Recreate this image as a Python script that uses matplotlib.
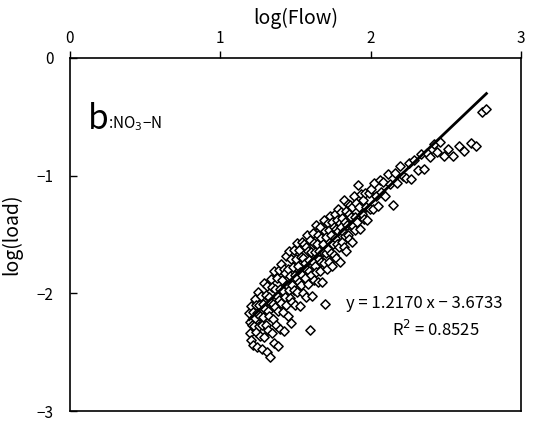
import matplotlib
matplotlib.use("Agg")
import matplotlib.pyplot as plt
import numpy as np

plt.rcParams['font.family'] = ['Noto Sans CJK JP', 'DejaVu Sans']

# (log Flow, log load) points
pts = [
(1.192,-2.17),(1.195,-2.34),(1.198,-2.24),(1.203,-2.11),(1.206,-2.40),(1.211,-2.27),(1.215,-2.16),(1.219,-2.44),
(1.224,-2.28),(1.228,-2.05),(1.231,-2.21),(1.236,-2.33),(1.239,-2.10),
(1.243,-2.46),(1.247,-2.17),(1.252,-1.99),(1.255,-2.28),(1.259,-2.10),(1.263,-2.36),(1.266,-2.19),(1.271,-2.02),
(1.274,-2.47),(1.278,-2.27),(1.282,-2.09),(1.286,-2.20),(1.289,-1.91),(1.293,-2.37),(1.297,-2.13),
(1.301,-2.01),(1.305,-2.27),(1.308,-2.50),(1.312,-1.94),(1.316,-2.15),(1.319,-2.31),(1.323,-2.03),(1.327,-2.19),
(1.330,-2.54),(1.334,-1.88),(1.338,-2.08),(1.342,-2.34),(1.345,-1.95),(1.349,-2.22),
(1.352,-2.09),(1.356,-1.81),(1.359,-2.42),(1.363,-2.12),(1.366,-1.96),(1.370,-2.27),(1.374,-1.87),(1.377,-2.02),
(1.381,-2.45),(1.385,-2.15),(1.388,-1.80),(1.392,-2.06),(1.396,-1.96),(1.399,-2.30),
(1.403,-1.75),(1.406,-2.08),(1.410,-1.89),(1.414,-2.16),(1.417,-1.98),(1.421,-1.79),(1.425,-2.32),(1.428,-2.03),
(1.432,-1.83),(1.436,-2.10),(1.439,-1.68),(1.443,-1.93),(1.447,-2.19),
(1.450,-1.79),(1.454,-1.97),(1.458,-1.64),(1.461,-2.04),(1.465,-1.85),(1.469,-2.25),(1.472,-1.71),(1.476,-1.93),
(1.480,-2.07),(1.483,-1.78),(1.487,-1.63),(1.491,-1.97),(1.494,-1.84),(1.498,-2.10),
(1.502,-1.71),(1.505,-1.87),(1.509,-1.57),(1.513,-1.99),(1.516,-1.77),(1.520,-1.90),(1.524,-1.63),(1.527,-2.11),
(1.531,-1.82),(1.535,-1.69),(1.538,-1.93),(1.542,-1.56),(1.546,-1.84),(1.549,-2.00),
(1.553,-1.70),(1.557,-1.58),(1.560,-1.87),(1.564,-1.74),(1.568,-2.03),(1.571,-1.61),(1.575,-1.80),(1.579,-1.50),
(1.582,-1.92),(1.586,-1.64),(1.590,-1.81),(1.593,-1.72),(1.597,-2.31),(1.599,-1.55),
(1.603,-1.84),(1.606,-1.65),(1.610,-2.02),(1.614,-1.49),(1.617,-1.73),(1.621,-1.57),(1.625,-1.89),(1.628,-1.65),
(1.632,-1.77),(1.636,-1.42),(1.639,-1.82),(1.643,-1.58),(1.647,-1.90),
(1.650,-1.50),(1.654,-1.71),(1.658,-1.64),(1.661,-1.81),(1.665,-1.44),(1.669,-1.73),(1.672,-1.53),(1.676,-1.90),
(1.680,-1.58),(1.683,-1.65),(1.687,-1.38),(1.691,-1.74),(1.694,-1.47),(1.698,-2.09),
(1.702,-1.66),(1.705,-1.52),(1.709,-1.79),(1.713,-1.40),(1.716,-1.62),(1.720,-1.46),(1.724,-1.73),(1.727,-1.56),
(1.731,-1.34),(1.735,-1.66),(1.738,-1.50),(1.742,-1.77),(1.746,-1.39),
(1.749,-1.58),(1.753,-1.44),(1.757,-1.67),(1.760,-1.33),(1.764,-1.53),(1.768,-1.45),(1.771,-1.70),(1.775,-1.38),
(1.779,-1.58),(1.782,-1.47),(1.786,-1.28),(1.790,-1.61),(1.794,-1.40),(1.797,-1.73),
(1.801,-1.44),(1.805,-1.31),(1.808,-1.56),(1.812,-1.36),(1.816,-1.48),(1.820,-1.21),(1.823,-1.61),(1.827,-1.39),
(1.831,-1.51),(1.835,-1.30),(1.838,-1.64),(1.842,-1.42),(1.846,-1.24),
(1.850,-1.50),(1.854,-1.33),(1.858,-1.54),(1.862,-1.25),(1.866,-1.43),(1.870,-1.35),(1.875,-1.56),(1.879,-1.27),
(1.884,-1.43),(1.889,-1.17),(1.893,-1.35),(1.898,-1.46),
(1.903,-1.23),(1.909,-1.39),(1.915,-1.08),(1.921,-1.27),(1.928,-1.45),(1.934,-1.16),(1.941,-1.33),(1.948,-1.21),
(1.955,-1.37),(1.962,-1.15),(1.970,-1.27),(1.978,-1.38),(1.986,-1.15),(1.994,-1.28),
(2.005,-1.11),(2.014,-1.28),(2.025,-1.06),(2.036,-1.17),(2.048,-1.26),(2.060,-1.04),(2.072,-1.14),(2.085,-1.05),
(2.098,-1.17),(2.112,-0.99),(2.126,-1.07),(2.148,-1.25),(2.163,-0.98),(2.178,-1.06),(2.194,-0.92),(2.212,-1.00),
(2.236,-1.02),(2.255,-0.89),(2.271,-1.03),(2.290,-0.87),(2.312,-0.95),(2.335,-0.82),(2.356,-0.94),(2.378,-0.81),
(2.395,-0.84),(2.418,-0.73),(2.440,-0.80),(2.462,-0.71),(2.485,-0.83),(2.512,-0.77),(2.548,-0.83),(2.585,-0.75),
(2.620,-0.79),(2.668,-0.72),(2.700,-0.75),(2.742,-0.46),(2.770,-0.43),
]
log_flow = [p[0] for p in pts]
log_load = [p[1] for p in pts]

slope = 1.2170
intercept = -3.6733
r2 = 0.8525

x_ticks = [0, 1, 2, 3]
y_ticks = [0, -1, -2, -3]

fig = plt.figure(figsize=(5.51, 4.25), dpi=100)
ax = fig.add_axes([70/551, 1-411/425, (521-70)/551, (411-58)/425])

ax.scatter(log_flow, log_load, marker='D', s=22, facecolors='white',
           edgecolors='black', linewidths=1.1, zorder=2)

xl = np.array([min(log_flow), max(log_flow)])
ax.plot(xl, slope*xl + intercept, color='black', lw=2, zorder=3)

ax.set_xlim(0, 3)
ax.set_ylim(-3, 0)
ax.set_xticks(x_ticks)
ax.set_yticks(y_ticks)
ax.set_yticklabels(['0', '\u22121', '\u22122', '\u22123'])
ax.xaxis.tick_top()
ax.xaxis.set_label_position('top')
ax.tick_params(axis='x', direction='out', length=5, width=1, labelsize=11, pad=3)
ax.tick_params(axis='y', direction='in', length=5, width=1, labelsize=11, pad=12)
for s in ax.spines.values():
    s.set_linewidth(1.2)

ax.set_xlabel('log(Flow)', fontsize=14, labelpad=4)
ax.set_ylabel('log(load)', fontsize=14, labelpad=10)

ax.text(0.04, 0.80, 'b', transform=ax.transAxes, fontsize=24, va='baseline', ha='left')
ax.text(0.085, 0.80, ':NO$_3$\u2212N', transform=ax.transAxes,
        fontsize=11, va='baseline', ha='left')

ax.text(0.785, 0.305, 'y = %.4f x \u2212 %.4f' % (slope, -intercept), transform=ax.transAxes,
        fontsize=12, ha='center', va='center')
ax.text(0.81, 0.23, 'R$^{2}$ = %.4f' % r2, transform=ax.transAxes,
        fontsize=12, ha='center', va='center')

fig.savefig('out.png', dpi=100)
